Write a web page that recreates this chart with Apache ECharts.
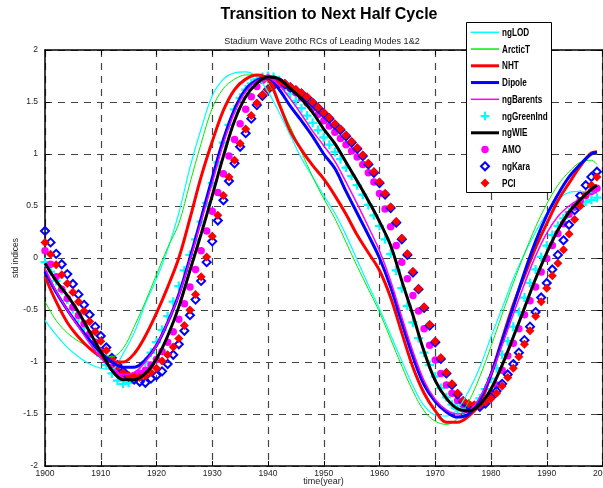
<!DOCTYPE html>
<html>
<head>
<meta charset="utf-8">
<title>Transition to Next Half Cycle</title>
<script src="https://cdn.jsdelivr.net/npm/echarts@6/dist/echarts.min.js"></script>
<style>
  html, body { margin: 0; padding: 0; background: #ffffff; }
  #chart { width: 603px; height: 488px; }
</style>
</head>
<body>
<div id="chart"></div>
<script>
// Sampling years: continuous indices every second year (plus the final year), marker indices yearly.
const lineYears = [];
for (let y = 1900; y <= 1998; y += 2) lineYears.push(y);
lineYears.push(1999);
const markerYears = [];
for (let y = 1900; y <= 1999; y++) markerYears.push(y);

// Axis tick labels
const xTickLabels = [1900, 1910, 1920, 1930, 1940, 1950, 1960, 1970, 1980, 1990, 2000];
const yTickLabels = [-2, -1.5, -1, -0.5, 0, 0.5, 1, 1.5, 2];

// Continuous indices (std units)
const ngLOD = [-0.60,-0.74,-0.86,-0.95,-1.02,-1.06,-1.07,-0.92,-0.72,-0.44,
  -0.20,0.08,0.43,0.87,1.24,1.56,1.72,1.78,1.79,1.74,
  1.60,1.40,1.18,0.96,0.78,0.60,0.43,0.22,-0.02,-0.26,
  -0.49,-0.74,-0.99,-1.23,-1.42,-1.51,-1.52,-1.45,-1.28,-1.05,
  -0.76,-0.48,-0.20,0.04,0.25,0.43,0.56,0.63,0.64,0.63,0.62];
const arcticT = [-0.42,-0.60,-0.72,-0.80,-0.86,-0.91,-0.95,-0.87,-0.66,-0.42,
  -0.16,0.10,0.33,0.72,1.10,1.44,1.63,1.72,1.76,1.76,
  1.68,1.48,1.26,1.02,0.78,0.57,0.38,0.15,-0.08,-0.30,
  -0.52,-0.78,-1.04,-1.28,-1.47,-1.57,-1.60,-1.54,-1.38,-1.14,
  -0.85,-0.54,-0.24,0.04,0.30,0.52,0.70,0.83,0.92,0.94,0.90];
const nht = [-0.18,-0.42,-0.62,-0.76,-0.87,-0.95,-1.00,-1.00,-0.92,-0.75,
  -0.53,-0.28,0.00,0.38,0.78,1.12,1.42,1.62,1.72,1.76,
  1.72,1.48,1.22,1.04,0.89,0.76,0.60,0.42,0.22,0.05,
  -0.12,-0.38,-0.72,-1.05,-1.30,-1.47,-1.58,-1.58,-1.52,-1.40,
  -1.12,-0.78,-0.45,-0.17,0.10,0.33,0.55,0.72,0.88,1.01,1.02];
const dipole = [-0.13,-0.33,-0.50,-0.65,-0.79,-0.91,-1.00,-1.05,-1.05,-0.98,
  -0.84,-0.62,-0.35,0.00,0.38,0.77,1.14,1.43,1.62,1.71,
  1.73,1.62,1.46,1.32,1.17,1.00,0.86,0.64,0.43,0.22,
  0.00,-0.28,-0.62,-0.95,-1.22,-1.38,-1.48,-1.53,-1.50,-1.36,
  -1.12,-0.80,-0.47,-0.14,0.16,0.41,0.61,0.78,0.90,1.00,1.02];
const ngBarents = [-0.10,-0.32,-0.50,-0.66,-0.82,-0.96,-1.07,-1.12,-1.10,-1.00,
  -0.84,-0.62,-0.36,-0.02,0.35,0.72,1.10,1.40,1.60,1.70,
  1.73,1.66,1.53,1.38,1.22,1.08,0.93,0.73,0.52,0.30,
  0.07,-0.22,-0.57,-0.90,-1.18,-1.36,-1.46,-1.50,-1.47,-1.34,
  -1.12,-0.84,-0.54,-0.25,0.02,0.24,0.40,0.50,0.57,0.62,0.63];
const ngWIE = [-0.05,-0.22,-0.36,-0.52,-0.71,-0.90,-1.08,-1.17,-1.17,-1.11,
  -0.97,-0.75,-0.47,-0.12,0.23,0.60,0.98,1.32,1.55,1.68,
  1.74,1.72,1.63,1.53,1.40,1.24,1.10,0.92,0.74,0.55,
  0.35,0.12,-0.22,-0.55,-0.90,-1.18,-1.35,-1.45,-1.47,-1.41,
  -1.26,-1.03,-0.76,-0.48,-0.20,0.05,0.27,0.44,0.56,0.66,0.70];

// Yearly marker indices (std units)
const ngGreenInd = [-0.04,-0.13,-0.22,-0.31,-0.40,-0.49,-0.58,-0.67,-0.76,-0.85,
  -0.94,-1.03,-1.11,-1.18,-1.21,-1.20,-1.16,-1.09,-1.00,-0.91,
  -0.81,-0.69,-0.56,-0.42,-0.27,-0.12,0.03,0.18,0.35,0.53,
  0.72,0.92,1.11,1.28,1.43,1.54,1.62,1.68,1.72,1.74,
  1.75,1.74,1.71,1.65,1.58,1.51,1.44,1.37,1.30,1.23,
  1.16,1.09,1.02,0.95,0.87,0.79,0.70,0.61,0.51,0.41,
  0.31,0.18,0.04,-0.12,-0.29,-0.46,-0.62,-0.77,-0.91,-1.03,
  -1.14,-1.25,-1.34,-1.41,-1.45,-1.47,-1.46,-1.42,-1.35,-1.26,
  -1.16,-1.06,-0.93,-0.80,-0.66,-0.52,-0.38,-0.24,-0.11,0.01,
  0.12,0.22,0.31,0.38,0.44,0.49,0.52,0.54,0.56,0.58];
const amo = [0.07,-0.06,-0.18,-0.30,-0.39,-0.47,-0.55,-0.63,-0.73,-0.81,
  -0.89,-0.98,-1.05,-1.10,-1.135,-1.14,-1.13,-1.11,-1.08,-1.03,
  -0.975,-0.90,-0.81,-0.71,-0.59,-0.44,-0.28,-0.11,0.07,0.26,
  0.45,0.63,0.81,0.98,1.14,1.29,1.43,1.55,1.65,1.71,
  1.73,1.72,1.70,1.67,1.63,1.59,1.54,1.49,1.44,1.38,
  1.32,1.27,1.21,1.15,1.09,1.03,0.97,0.90,0.82,0.73,
  0.62,0.47,0.30,0.12,-0.04,-0.20,-0.36,-0.51,-0.68,-0.84,
  -0.98,-1.11,-1.22,-1.30,-1.37,-1.41,-1.43,-1.435,-1.42,-1.39,
  -1.32,-1.22,-1.08,-0.94,-0.82,-0.68,-0.545,-0.41,-0.28,-0.135,
  -0.005,0.12,0.235,0.33,0.42,0.49,0.55,0.60,0.64,0.67];
const ngKara = [0.26,0.15,0.04,-0.06,-0.155,-0.25,-0.35,-0.45,-0.545,-0.66,
  -0.75,-0.86,-0.96,-1.03,-1.09,-1.14,-1.17,-1.19,-1.20,-1.16,
  -1.13,-1.09,-1.02,-0.93,-0.83,-0.70,-0.55,-0.40,-0.22,-0.04,
  0.16,0.36,0.555,0.74,0.91,1.07,1.20,1.34,1.47,1.56,
  1.62,1.66,1.68,1.67,1.64,1.61,1.58,1.54,1.49,1.44,
  1.39,1.34,1.28,1.23,1.17,1.11,1.05,0.98,0.90,0.82,
  0.72,0.61,0.48,0.34,0.18,0.03,-0.14,-0.30,-0.48,-0.65,
  -0.81,-0.97,-1.11,-1.22,-1.31,-1.38,-1.42,-1.43,-1.43,-1.40,
  -1.34,-1.28,-1.21,-1.12,-1.02,-0.91,-0.79,-0.66,-0.52,-0.38,
  -0.24,-0.11,0.03,0.17,0.32,0.46,0.60,0.70,0.78,0.83];
const pci = [0.15,0.035,-0.065,-0.16,-0.245,-0.33,-0.42,-0.51,-0.61,-0.71,
  -0.80,-0.89,-0.97,-1.04,-1.10,-1.13,-1.145,-1.15,-1.135,-1.10,
  -1.06,-0.99,-0.93,-0.855,-0.775,-0.65,-0.50,-0.35,-0.18,0.01,
  0.21,0.41,0.60,0.78,0.94,1.10,1.24,1.37,1.49,1.57,
  1.62,1.67,1.69,1.68,1.65,1.62,1.59,1.55,1.50,1.45,
  1.40,1.35,1.29,1.24,1.18,1.12,1.06,0.99,0.91,0.83,
  0.73,0.62,0.49,0.35,0.19,0.04,-0.13,-0.295,-0.47,-0.64,
  -0.80,-0.96,-1.10,-1.21,-1.30,-1.37,-1.40,-1.41,-1.41,-1.385,
  -1.35,-1.30,-1.23,-1.15,-1.06,-0.95,-0.83,-0.70,-0.56,-0.42,
  -0.29,-0.17,-0.05,0.08,0.23,0.37,0.50,0.61,0.70,0.78];

// Plus-sign marker outline (unit square, arms one quarter thick)
const PLUS = 'path://M3,0H5V3H8V5H5V8H3V5H0V3H3Z';

// Plot order follows the legend; later entries are drawn on top.
const seriesDefs = [
  { name: 'ngLOD',      kind: 'line', values: ngLOD,     color: '#00ffff', width: 1.2 },
  { name: 'ArcticT',    kind: 'line', values: arcticT,   color: '#00ee00', width: 1 },
  { name: 'NHT',        kind: 'line', values: nht,       color: '#ff0000', width: 3 },
  { name: 'Dipole',     kind: 'line', values: dipole,    color: '#0000ff', width: 3 },
  { name: 'ngBarents',  kind: 'line', values: ngBarents, color: '#ff00ff', width: 1.5 },
  { name: 'ngGreenInd', kind: 'mark', values: ngGreenInd, symbol: PLUS, size: 9,
    fill: '#00ffff', stroke: 'transparent', strokeWidth: 0 },
  { name: 'ngWIE',      kind: 'line', values: ngWIE,     color: '#000000', width: 3 },
  { name: 'AMO',        kind: 'mark', values: amo, symbol: 'circle', size: 7.5,
    fill: '#ff00ff', stroke: 'transparent', strokeWidth: 0 },
  { name: 'ngKara',     kind: 'mark', values: ngKara, symbol: 'diamond', size: 8,
    fill: 'rgba(0,0,0,0)', stroke: '#0000ff', strokeWidth: 2 },
  { name: 'PCI',        kind: 'mark', values: pci, symbol: 'diamond', size: 9,
    fill: '#ff0000', stroke: 'transparent', strokeWidth: 0 }
];

const series = seriesDefs.map(d => {
  const xs = d.kind === 'line' ? lineYears : markerYears;
  const data = d.values.map((v, i) => [xs[i], v]);
  if (d.kind === 'line') {
    return {
      name: d.name, type: 'line', data, showSymbol: false, symbol: 'none',
      smooth: 0.35, lineStyle: { color: d.color, width: d.width },
      itemStyle: { color: d.color }, silent: true, animation: false
    };
  }
  return {
    name: d.name, type: 'scatter', data, symbol: d.symbol, symbolSize: d.size,
    itemStyle: { color: d.fill, borderColor: d.stroke, borderWidth: d.strokeWidth, opacity: 1 },
    silent: true, animation: false
  };
});

// Legend box drawn as graphic elements
const LEG = { x: 466.5, y: 22.5, w: 85, h: 170, row0: 32.3, rowGap: 16.75, s0: 471, s1: 499, textX: 502 };
const legendEls = [{
  type: 'rect', z: 100,
  shape: { x: LEG.x, y: LEG.y, width: LEG.w, height: LEG.h },
  style: { fill: '#ffffff', stroke: '#000000', lineWidth: 1 }
}];
seriesDefs.forEach((d, i) => {
  const cy = LEG.row0 + i * LEG.rowGap;
  const cx = (LEG.s0 + LEG.s1) / 2;
  if (d.kind === 'line') {
    legendEls.push({ type: 'line', z: 101,
      shape: { x1: LEG.s0, y1: cy, x2: LEG.s1, y2: cy },
      style: { stroke: d.color, lineWidth: Math.max(d.width, 1.5) } });
  } else if (d.symbol === 'circle') {
    legendEls.push({ type: 'circle', z: 101, shape: { cx, cy, r: d.size / 2 },
      style: { fill: d.fill } });
  } else if (d.symbol === 'diamond') {
    const h = d.size / 2;
    legendEls.push({ type: 'polygon', z: 101,
      shape: { points: [[cx, cy - h], [cx + h, cy], [cx, cy + h], [cx - h, cy]] },
      style: { fill: d.fill, stroke: d.stroke, lineWidth: d.strokeWidth } });
  } else {
    const a = 1.1, b = 4.3;
    legendEls.push({ type: 'polygon', z: 101,
      shape: { points: [[cx - a, cy - b], [cx + a, cy - b], [cx + a, cy - a], [cx + b, cy - a],
        [cx + b, cy + a], [cx + a, cy + a], [cx + a, cy + b], [cx - a, cy + b],
        [cx - a, cy + a], [cx - b, cy + a], [cx - b, cy - a], [cx - a, cy - a]] },
      style: { fill: d.fill } });
  }
  legendEls.push({ type: 'text', z: 101, x: LEG.textX, y: cy + 0.5, scaleX: 0.74,
    style: { text: d.name, fill: '#000000', fontSize: 11, fontWeight: 'bold',
      fontFamily: "'Liberation Sans', Arial, sans-serif",
      verticalAlign: 'middle', align: 'left' } });
});

const FONT = "'Liberation Sans', Arial, Helvetica, sans-serif";
const gridDash = { show: true, lineStyle: { color: '#444444', width: 1.2, type: [7, 6] } };
const frameLine = { show: true, onZero: false, lineStyle: { color: '#000000', width: 1.5 } };
const innerTick = { show: true, inside: true, length: 5, lineStyle: { color: '#000000', width: 1 } };

const xMin = xTickLabels[0], xMax = xTickLabels[xTickLabels.length - 1];
const xStep = xTickLabels[1] - xTickLabels[0];
const yMin = yTickLabels[0], yMax = yTickLabels[yTickLabels.length - 1];
const yStep = yTickLabels[1] - yTickLabels[0];

const option = {
  backgroundColor: '#ffffff',
  animation: false,
  grid: { left: 45, right: 0.5, top: 50, bottom: 22, containLabel: false, outerBoundsMode: 'none' },
  xAxis: [
    { type: 'value', position: 'bottom', min: xMin, max: xMax, interval: xStep,
      axisLine: frameLine, axisTick: innerTick, splitLine: gridDash,
      axisLabel: { show: true, fontSize: 8.5, color: '#222222', fontFamily: FONT, margin: 3,
        showMinLabel: true, showMaxLabel: true, hideOverlap: false,
        formatter: v => String(v) } },
    { type: 'value', position: 'top', min: xMin, max: xMax, interval: xStep,
      axisLine: frameLine, axisTick: innerTick, splitLine: { show: false },
      axisLabel: { show: false } }
  ],
  yAxis: [
    { type: 'value', position: 'left', min: yMin, max: yMax, interval: yStep,
      axisLine: frameLine, axisTick: innerTick, splitLine: gridDash,
      axisLabel: { show: true, fontSize: 8.5, color: '#222222', fontFamily: FONT, margin: 7,
        showMinLabel: true, showMaxLabel: true, hideOverlap: false,
        formatter: v => String(v) } },
    { type: 'value', position: 'right', min: yMin, max: yMax, interval: yStep,
      axisLine: frameLine, axisTick: innerTick, splitLine: { show: false },
      axisLabel: { show: false } }
  ],
  series,
  graphic: [
    { type: 'text', x: 329, y: 15, z: 100,
      style: { text: 'Transition to Next Half Cycle', fill: '#000000', fontSize: 16,
        fontWeight: 'bold', fontFamily: FONT, align: 'center', verticalAlign: 'middle' } },
    { type: 'text', x: 322, y: 42, z: 100,
      style: { text: 'Stadium Wave 20thc RCs of Leading Modes 1&2', fill: '#222222', fontSize: 9,
        fontFamily: FONT, align: 'center', verticalAlign: 'middle' } },
    // Axis titles
    { type: 'text', x: 323.5, y: 482, z: 100,
      style: { text: 'time(year)', fill: '#222222', fontSize: 9,
        fontFamily: FONT, align: 'center', verticalAlign: 'middle' } },
    { type: 'text', x: 16, y: 258, z: 100, rotation: Math.PI / 2,
      style: { text: 'std indices', fill: '#222222', fontSize: 8.5,
        fontFamily: FONT, align: 'center', verticalAlign: 'middle' } },
    ...legendEls
  ]
};

const chart = echarts.init(document.getElementById('chart'), null, { renderer: 'canvas' });
chart.setOption(option);
</script>
</body>
</html>
